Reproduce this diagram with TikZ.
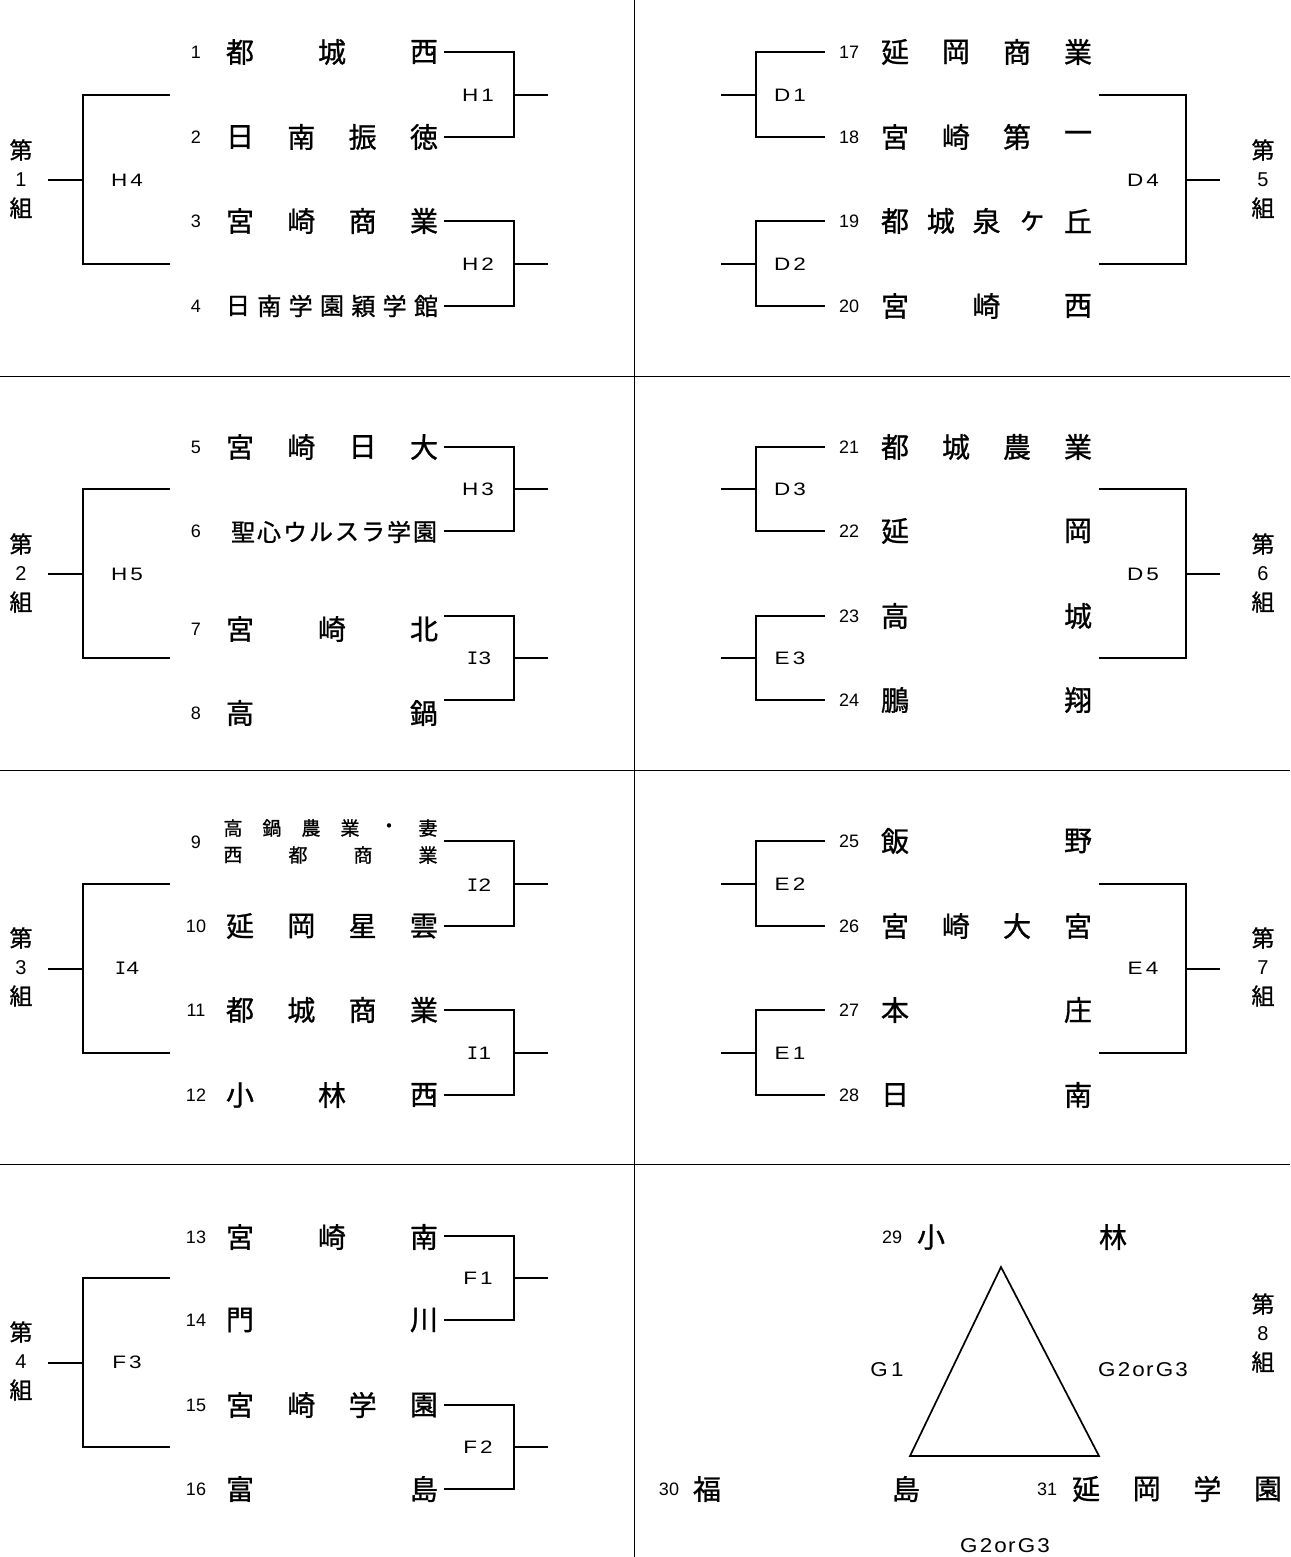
\documentclass[tikz,border=0pt]{standalone}
\usepackage{fontspec}
\usepackage{graphicx}
\setmainfont{Liberation Sans}
\newfontfamily\jp[FakeBold=1]{Noto Sans CJK JP}
\newfontfamily\monoI{Liberation Mono}
\tikzset{
  br/.style={line width=2pt, line join=miter},
  gridline/.style={line width=1pt},
  tm/.style={inner sep=0pt, anchor=center},
  num/.style={inner sep=0pt, font=\fontsize{18}{18}\selectfont},
  lab/.style={inner sep=0pt, font=\fontsize{18}{18}\selectfont},
  grpk/.style={inner sep=0pt, font=\jp\fontsize{23}{23}\selectfont},
  grpd/.style={inner sep=0pt, font=\fontsize{20}{20}\selectfont},
}
% #1 name, #2 count, #3 x first, #4 x last, #5 y, #6 size, #7 list
\newcommand\teamrow[7]{%
  \foreach \c [count=\i from 0] in {#7} {%
    \node[tm, font=\jp\fontsize{#6}{#6}\selectfont] (#1-\i) at ({#3+(#4-#3)*\i/(#2-1)}, #5) {\c};
  }%
}
% #1 x open end, #2 x vertical, #3 x stub end, #4 y1, #5 y2, #6 name
\newcommand\bracketat[6]{%
  \coordinate (#6-a) at (#1,#4);
  \coordinate (#6-b) at (#2,#4);
  \coordinate (#6-c) at (#2,#5);
  \coordinate (#6-d) at (#1,#5);
  \coordinate (#6-m) at (#2,{round((#4+#5)/2)});
  \coordinate (#6-s) at (#3,{round((#4+#5)/2)});
  \draw[br] (#6-a) -- (#6-b) -- (#6-c) -- (#6-d);
  \draw[br] (#6-m) -- (#6-s);
}
\newcommand\lbl[2]{\scalebox{1.25}[1]{#1\kern2.5pt#2}}
\newcommand\lblI[1]{{\fontsize{19}{19}\monoI I}\kern0.5pt\scalebox{1.25}[1]{#1}}
% #1 name, #2 x, #3 y center, #4 digit
\newcommand\group[4]{%
  \node[grpk] (#1-a) at (#2,{#3-30}) {第};
  \node[grpd] (#1-b) at (#2,#3) {#4};
  \node[grpk] (#1-c) at (#2,{#3+28}) {組};
}
\newcommand\gtg{\scalebox{1.12}[1]{G\kern2pt 2\kern2pt o\kern1pt r\kern2pt G\kern2pt 3}}
\begin{document}
\begin{tikzpicture}[x=1pt,y=-1pt]
\fill[white] (0,0) rectangle (1290,1557);
\useasboundingbox (0,0) rectangle (1290,1557);
% grid
\draw[gridline] (634.5,0) -- (634.5,1557);
\draw[gridline] (0,376.5) -- (1290,376.5);
\draw[gridline] (0,770.5) -- (1290,770.5);
\draw[gridline] (0,1164.5) -- (1290,1164.5);

% ---------- left side brackets ----------
\bracketat{444}{514}{548}{52}{137}{bH1}
\bracketat{444}{514}{548}{221}{306}{bH2}
\bracketat{170}{83}{48}{95}{264}{bH4}
\bracketat{444}{514}{548}{447}{531}{bH3}
\bracketat{444}{514}{548}{616}{700}{bI3}
\bracketat{170}{83}{48}{489}{658}{bH5}
\bracketat{444}{514}{548}{841}{926}{bI2}
\bracketat{444}{514}{548}{1010}{1095}{bI1}
\bracketat{170}{83}{48}{884}{1053}{bI4}
\bracketat{444}{514}{548}{1236}{1320}{bF1}
\bracketat{444}{514}{548}{1405}{1489}{bF2}
\bracketat{170}{83}{48}{1278}{1447}{bF3}

% ---------- right side brackets ----------
\bracketat{825}{756}{721}{52}{137}{bD1}
\bracketat{825}{756}{721}{221}{306}{bD2}
\bracketat{1099}{1186}{1220}{95}{264}{bD4}
\bracketat{825}{756}{721}{447}{531}{bD3}
\bracketat{825}{756}{721}{616}{700}{bE3}
\bracketat{1099}{1186}{1220}{489}{658}{bD5}
\bracketat{825}{756}{721}{841}{926}{bE2}
\bracketat{825}{756}{721}{1010}{1095}{bE1}
\bracketat{1099}{1186}{1220}{884}{1053}{bE4}

% ---------- labels ----------
\node[lab] (H1) at (478,95) {\lbl{H}{1}};
\node[lab] (H2) at (478,264) {\lbl{H}{2}};
\node[lab] (H4) at (127,180) {\lbl{H}{4}};
\node[lab] (H3) at (478,489) {\lbl{H}{3}};
\node[lab] (I3) at (479,658) {\lblI{3}};
\node[lab] (H5) at (127,574) {\lbl{H}{5}};
\node[lab] (I2) at (479,885) {\lblI{2}};
\node[lab] (I1) at (479,1053) {\lblI{1}};
\node[lab] (I4) at (127,968) {\lblI{4}};
\node[lab] (F1) at (478,1278) {\lbl{F}{1}};
\node[lab] (F2) at (478,1447) {\lbl{F}{2}};
\node[lab] (F3) at (127,1362) {\lbl{F}{3}};
\node[lab] (D1) at (790,95) {\lbl{D}{1}};
\node[lab] (D2) at (790,264) {\lbl{D}{2}};
\node[lab] (D4) at (1143,180) {\lbl{D}{4}};
\node[lab] (D3) at (790,489) {\lbl{D}{3}};
\node[lab] (E3) at (790,658) {\lbl{E}{3}};
\node[lab] (D5) at (1143,574) {\lbl{D}{5}};
\node[lab] (E2) at (790,884) {\lbl{E}{2}};
\node[lab] (E1) at (790,1053) {\lbl{E}{1}};
\node[lab] (E4) at (1143,968) {\lbl{E}{4}};

% ---------- group labels ----------
\group{g1}{21}{180}{1}
\group{g2}{21}{574}{2}
\group{g3}{21}{968}{3}
\group{g4}{21}{1362}{4}
\group{g5}{1263}{180}{5}
\group{g6}{1263}{574}{6}
\group{g7}{1263}{968}{7}
\group{g8}{1263}{1334}{8}

% ---------- left numbers ----------
\node[num] (n1) at (196,52) {1};
\node[num] (n2) at (196,137) {2};
\node[num] (n3) at (196,221) {3};
\node[num] (n4) at (196,306) {4};
\node[num] (n5) at (196,447) {5};
\node[num] (n6) at (196,531) {6};
\node[num] (n7) at (196,629) {7};
\node[num] (n8) at (196,713) {8};
\node[num] (n9) at (196,842) {9};
\node[num] (n10) at (196,926) {10};
\node[num] (n11) at (196,1010) {11};
\node[num] (n12) at (196,1095) {12};
\node[num] (n13) at (196,1237) {13};
\node[num] (n14) at (196,1320) {14};
\node[num] (n15) at (196,1405) {15};
\node[num] (n16) at (196,1489) {16};
% ---------- right numbers ----------
\node[num] (n17) at (849,52) {17};
\node[num] (n18) at (849,137) {18};
\node[num] (n19) at (849,221) {19};
\node[num] (n20) at (849,306) {20};
\node[num] (n21) at (849,447) {21};
\node[num] (n22) at (849,531) {22};
\node[num] (n23) at (849,616) {23};
\node[num] (n24) at (849,700) {24};
\node[num] (n25) at (849,841) {25};
\node[num] (n26) at (849,926) {26};
\node[num] (n27) at (849,1010) {27};
\node[num] (n28) at (849,1095) {28};

% ---------- left teams ----------
\teamrow{t1}{3}{240}{424}{52}{28}{都,城,西}
\teamrow{t2}{4}{240}{424}{137}{28}{日,南,振,徳}
\teamrow{t3}{4}{240}{424}{221}{28}{宮,崎,商,業}
\teamrow{t4}{7}{238}{426}{306}{24}{日,南,学,園,穎,学,館}
\teamrow{t5}{4}{240}{424}{447}{28}{宮,崎,日,大}
\teamrow{t6}{8}{243}{425}{532}{24}{聖,心,ウ,ル,ス,ラ,学,園}
\teamrow{t7}{3}{240}{424}{629}{28}{宮,崎,北}
\teamrow{t8}{2}{240}{424}{713}{28}{高,鍋}
\teamrow{t9a}{6}{233}{428}{828}{19}{高,鍋,農,業,・,妻}
\teamrow{t9b}{4}{233}{428}{855}{19}{西,都,商,業}
\teamrow{t10}{4}{240}{424}{926}{28}{延,岡,星,雲}
\teamrow{t11}{4}{240}{424}{1010}{28}{都,城,商,業}
\teamrow{t12}{3}{240}{424}{1095}{28}{小,林,西}
\teamrow{t13}{3}{240}{424}{1237}{28}{宮,崎,南}
\teamrow{t14}{2}{240}{424}{1320}{28}{門,川}
\teamrow{t15}{4}{240}{424}{1405}{28}{宮,崎,学,園}
\teamrow{t16}{2}{240}{424}{1489}{28}{富,島}
% ---------- right teams ----------
\teamrow{t17}{4}{895}{1078}{52}{28}{延,岡,商,業}
\teamrow{t18}{4}{895}{1078}{137}{28}{宮,崎,第,一}
\teamrow{t19}{5}{895}{1078}{221}{28}{都,城,泉,ヶ,丘}
\teamrow{t20}{3}{895}{1078}{306}{28}{宮,崎,西}
\teamrow{t21}{4}{895}{1078}{447}{28}{都,城,農,業}
\teamrow{t22}{2}{895}{1078}{531}{28}{延,岡}
\teamrow{t23}{2}{895}{1078}{616}{28}{高,城}
\teamrow{t24}{2}{895}{1078}{700}{28}{鵬,翔}
\teamrow{t25}{2}{895}{1078}{841}{28}{飯,野}
\teamrow{t26}{4}{895}{1078}{926}{28}{宮,崎,大,宮}
\teamrow{t27}{2}{895}{1078}{1010}{28}{本,庄}
\teamrow{t28}{2}{895}{1078}{1095}{28}{日,南}

% ---------- group 8 (round robin) ----------
\coordinate (tA) at (1001,1267);
\coordinate (tB) at (910,1456);
\coordinate (tC) at (1099,1456);
\draw[line width=1.7pt, line join=miter] (tA) -- (tB) -- (tC) -- cycle;
\node[num] (n29) at (892,1237) {29};
\teamrow{t29}{2}{931}{1113}{1237}{28}{小,林}
\node[num] (n30) at (669,1489) {30};
\teamrow{t30}{2}{707}{906}{1489}{28}{福,島}
\node[num] (n31) at (1047,1489) {31};
\teamrow{t31}{4}{1086}{1268}{1489}{28}{延,岡,学,園}
\node[lab, font=\fontsize{20}{20}\selectfont] (G1) at (887,1370) {\scalebox{1.12}[1]{G\kern3pt 1}};
\node[lab, font=\fontsize{20}{20}\selectfont] (G23a) at (1143,1370) {\gtg};
\node[lab, font=\fontsize{20}{20}\selectfont] (G23b) at (1005,1546) {\gtg};
\end{tikzpicture}
\end{document}
